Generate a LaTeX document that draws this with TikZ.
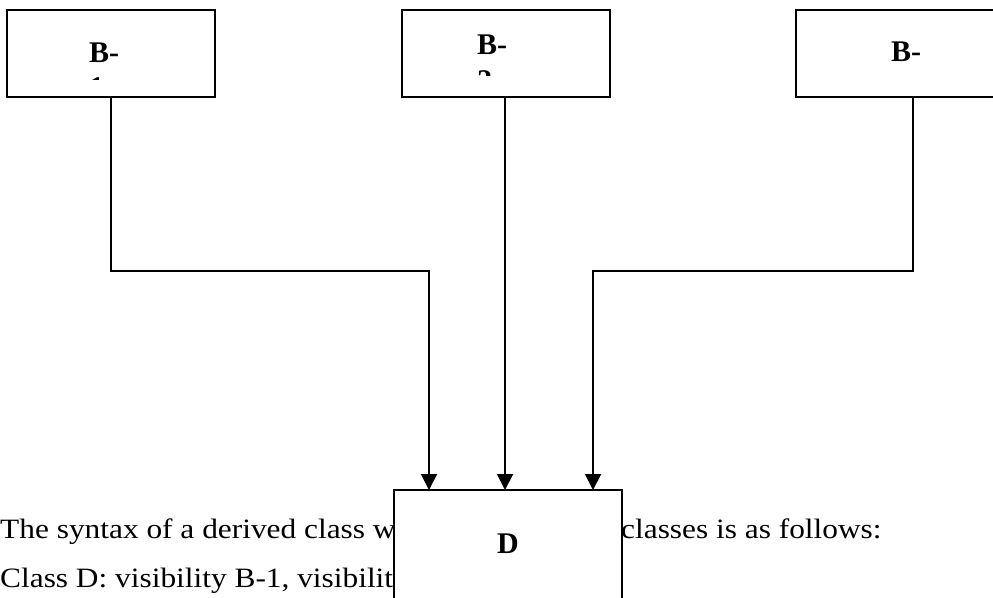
\documentclass[tikz,border=0pt]{standalone}
\usepackage{fontspec}
\setmainfont{Liberation Serif}
\newfontfamily\bodyfont[FakeStretch=1.12]{Liberation Serif}
\usetikzlibrary{arrows.meta}
\begin{document}
\begin{tikzpicture}[x=1pt,y=-1pt,
  classbox/.style={draw=black, line width=2pt, fill=white, inner sep=0pt},
  link/.style={draw=black, line width=2pt},
  into/.style={link, -{Triangle[length=16pt,width=16pt]}},
  boxlabel/.style={inner sep=0pt, font=\fontsize{30}{36}\selectfont\bfseries, anchor=base west},
  prose/.style={inner sep=0pt, font=\bodyfont\fontsize{28}{34}\selectfont, anchor=base west}]
\useasboundingbox (0,0) rectangle (993,597);
\clip (0,0) rectangle (993,597);

% running text behind the derived class box
\node[prose] (line1a) at (0,538) {The syntax of a derived class w};
\node[prose] (line1b) at (621,538) {classes is as follows:};
\node[prose] (line2) at (0,587) {Class D: visibility B-1, visibilit};

% base classes
\node[classbox, minimum width=208pt, minimum height=87pt] (b1) at (111,53.5) {};
\node[classbox, minimum width=208pt, minimum height=87pt] (b2) at (505.5,53.5) {};
\node[classbox, minimum width=208pt, minimum height=87pt] (b3) at (900,53.5) {};
\node[boxlabel] (b1name) at (89,62) {B-};
\node[boxlabel] (b2name) at (477,54) {B-};
\node[boxlabel] (b3name) at (891,61) {B-};
\begin{scope}
  \clip (80,60) rectangle (130,79.5);
  \node[boxlabel] (b1num) at (89,97) {1};
\end{scope}
\begin{scope}
  \clip (470,60) rectangle (520,75.5);
  \node[boxlabel] (b2num) at (477,90.5) {2};
\end{scope}

% derived class
\node[classbox, minimum width=228pt, minimum height=120pt] (d) at (508,550) {};
\node[boxlabel] (dname) at (497,553) {D};

% inheritance links
\coordinate (d1) at (429,490);
\coordinate (d2) at (505,490);
\coordinate (d3) at (593,490);
\coordinate (k1) at (429,271);
\coordinate (k3) at (593,271);
\coordinate (t3) at (913,271);
\draw[into] (b1.south) |- (k1) -- (d1);
\draw[into] (b2.south -| d2) -- (d2);
\draw[into] (b3.south -| t3) -- (t3) -- (k3) -- (d3);
\end{tikzpicture}
\end{document}
